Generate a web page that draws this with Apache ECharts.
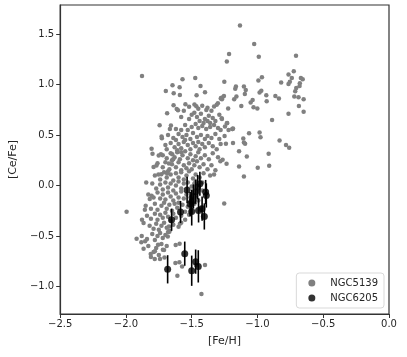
<!DOCTYPE html>
<html>
<head>
<meta charset="utf-8">
<script src="https://cdn.jsdelivr.net/npm/echarts@6/dist/echarts.min.js"></script>
<style>
  html, body { margin: 0; padding: 0; background: #fff; }
  #chart { width: 407px; height: 357px; }
</style>
</head>
<body>
<div id="chart"></div>
<script>
// [Fe/H], [Ce/Fe] pairs for NGC5139
var ngc5139 = [
  [-1.133,1.587],[-1.025,1.403],[-0.99,1.277],[-0.707,1.287],[-1.216,1.304],[-1.233,1.228],[-1.878,1.086],
  [-0.724,1.133],[-0.764,1.099],[-0.739,1.066],[-0.67,1.066],[-0.656,1.053],[-0.678,1.014],[-0.754,1.027],
  [-0.764,1.007],[-0.82,1.02],[-0.705,0.967],[-0.713,0.935],[-0.68,0.987],[-0.72,0.881],[-0.688,0.875],
  [-0.649,0.855],[-0.685,0.789],[-0.649,0.73],[-0.764,0.71],[-0.889,0.65],[-0.864,0.888],[-0.837,0.861],
  [-0.933,0.895],[-0.93,0.836],[-0.971,0.94],[-0.984,0.921],[-0.966,1.073],[-0.993,1.04],[-1.089,0.947],
  [-1.103,0.98],[-1.164,0.98],[-1.169,0.96],[-1.252,1.027],[-1.255,0.888],[-1.277,0.868],[-1.27,0.855],
  [-1.16,0.881],[-1.177,0.855],[-1.123,0.789],[-1.096,0.908],[-1.052,0.822],[-1.037,0.848],[-1.03,0.776],
  [-1.001,0.762],[-1.223,0.762],
  [-1.186,0.564],[-1.22,0.551],[-1.064,0.518],[-1.108,0.465],[-1.103,0.426],[-0.984,0.525],[-0.977,0.479],
  [-1.094,0.413],[-0.915,0.314],[-0.832,0.446],[-0.783,0.4],[-0.759,0.373],[-0.998,0.175],[-0.911,0.195],
  [-1.14,0.188],[-1.103,0.089],[-1.081,0.287],[-1.24,0.413],[-1.186,0.42],[-1.265,0.254],[-1.235,0.215],
  [-1.282,0.241],[-1.14,0.34],
  [-1.697,0.937],[-1.646,0.993],[-1.57,1.053],[-1.473,1.066],[-1.433,0.987],[-1.592,0.974],[-1.637,0.914],
  [-1.59,0.898],[-1.463,0.894],[-1.399,0.924],
  [-1.744,0.597],[-1.658,0.594],[-1.666,0.561],[-1.729,0.485],[-1.727,0.469],[-1.805,0.363],[-1.798,0.314],
  [-1.751,0.297],[-1.734,0.31],[-1.768,0.198],[-1.79,0.182],[-1.753,0.109],[-1.731,0.112],[-1.687,0.119],
  [-1.673,0.218],[-1.641,0.261],[-1.648,0.31],[-1.687,0.716],[-1.638,0.795],[-1.614,0.759],[-1.604,0.746],
  [-1.548,0.805],[-1.479,0.802],[-1.465,0.785],[-1.389,0.749],[-1.33,0.782],[-1.301,0.815],[-1.279,0.861],
  [-1.267,0.871],[-1.272,0.667],[-1.247,0.584],[-1.191,0.561],[-1.233,0.617],
  // dense core
  [-1.52,0.78],[-1.45,0.76],[-1.42,0.79],[-1.38,0.77],[-1.35,0.74],[-1.31,0.80],[-1.56,0.74],[-1.48,0.72],
  [-1.50,0.70],[-1.46,0.68],[-1.43,0.71],[-1.40,0.66],[-1.37,0.69],[-1.34,0.67],[-1.32,0.64],[-1.29,0.70],
  [-1.44,0.64],[-1.41,0.62],[-1.38,0.64],[-1.36,0.62],[-1.52,0.66],[-1.58,0.68],[-1.27,0.66],[-1.23,0.62],
  [-1.55,0.60],[-1.50,0.58],[-1.47,0.61],[-1.45,0.57],[-1.42,0.59],[-1.39,0.56],[-1.36,0.58],[-1.33,0.60],
  [-1.30,0.57],[-1.28,0.55],[-1.62,0.56],[-1.58,0.55],[-1.53,0.55],[-1.19,0.56],
  [-1.68,0.50],[-1.64,0.47],[-1.60,0.51],[-1.57,0.48],[-1.54,0.50],[-1.51,0.46],[-1.49,0.52],[-1.46,0.48],
  [-1.43,0.50],[-1.40,0.46],[-1.38,0.49],[-1.35,0.47],[-1.32,0.51],[-1.29,0.46],[-1.25,0.49],[-1.62,0.45],
  [-1.55,0.45],
  [-1.70,0.40],[-1.66,0.42],[-1.63,0.38],[-1.60,0.41],[-1.58,0.37],[-1.56,0.43],[-1.53,0.40],[-1.51,0.36],
  [-1.49,0.42],[-1.47,0.39],[-1.45,0.43],[-1.44,0.36],[-1.42,0.41],[-1.40,0.38],[-1.37,0.42],[-1.34,0.39],
  [-1.31,0.36],[-1.28,0.41],[-1.69,0.36],[-1.61,0.35],
  [-1.72,0.30],[-1.69,0.27],[-1.66,0.32],[-1.63,0.28],[-1.61,0.33],[-1.59,0.26],[-1.57,0.30],[-1.55,0.34],
  [-1.53,0.27],[-1.51,0.31],[-1.49,0.25],[-1.47,0.29],[-1.45,0.33],[-1.43,0.27],[-1.40,0.30],[-1.37,0.26],
  [-1.34,0.32],[-1.30,0.28],[-1.65,0.25],[-1.58,0.33],
  [-1.76,0.22],[-1.72,0.18],[-1.70,0.23],[-1.67,0.16],[-1.65,0.21],[-1.62,0.18],[-1.60,0.23],[-1.58,0.15],
  [-1.56,0.20],[-1.54,0.17],[-1.52,0.22],[-1.50,0.16],[-1.48,0.20],[-1.46,0.24],[-1.44,0.18],[-1.41,0.21],
  [-1.38,0.16],[-1.35,0.20],[-1.32,0.15],
  [-1.78,0.10],[-1.74,0.06],[-1.71,0.13],[-1.69,0.08],[-1.66,0.11],[-1.64,0.05],[-1.62,0.12],[-1.60,0.08],
  [-1.58,0.13],[-1.56,0.06],[-1.54,0.10],[-1.52,0.14],[-1.49,0.07],[-1.47,0.11],[-1.44,0.08],[-1.41,0.12],
  [-1.36,0.10],[-1.68,0.14],[-1.33,0.11],
  [-1.80,0.02],[-1.77,-0.03],[-1.74,0.01],[-1.72,-0.04],[-1.70,0.03],[-1.68,-0.02],[-1.66,0.02],[-1.64,-0.05],
  [-1.62,0.00],[-1.60,0.04],[-1.58,-0.03],[-1.56,0.02],[-1.53,0.03],[-1.50,-0.01],[-1.47,0.04],[-1.42,0.03],
  [-1.83,-0.09],[-1.79,-0.12],[-1.76,-0.07],[-1.74,-0.13],[-1.72,-0.09],[-1.70,-0.14],[-1.68,-0.07],[-1.66,-0.11],
  [-1.64,-0.15],[-1.62,-0.08],[-1.60,-0.12],[-1.58,-0.06],[-1.56,-0.13],[-1.54,-0.09],[-1.51,-0.12],
  [-1.85,-0.20],[-1.81,-0.23],[-1.78,-0.18],[-1.76,-0.24],[-1.73,-0.20],[-1.71,-0.17],[-1.69,-0.23],[-1.67,-0.19],
  [-1.65,-0.25],[-1.63,-0.18],[-1.61,-0.22],[-1.57,-0.19],[-1.53,-0.21],[-1.48,-0.18],[-1.43,-0.22],
  [-1.84,-0.30],[-1.81,-0.33],[-1.78,-0.28],[-1.76,-0.34],[-1.74,-0.29],[-1.72,-0.32],[-1.70,-0.27],[-1.68,-0.31],
  [-1.66,-0.35],[-1.64,-0.28],[-1.62,-0.32],[-1.58,-0.30],[-1.55,-0.34],[-1.52,-0.29],
  [-1.82,-0.40],[-1.79,-0.43],[-1.77,-0.38],[-1.75,-0.44],[-1.73,-0.40],[-1.71,-0.37],[-1.69,-0.42],[-1.67,-0.45],
  [-1.64,-0.39],[-1.60,-0.41],[-1.58,-0.37],
  [-1.88,-0.50],[-1.84,-0.53],[-1.80,-0.48],[-1.78,-0.54],[-1.76,-0.50],[-1.74,-0.47],[-1.72,-0.52],[-1.70,-0.49],
  [-1.68,-0.46],
  [-1.83,-0.60],[-1.79,-0.66],[-1.77,-0.62],[-1.75,-0.69],[-1.73,-0.58],[-1.71,-0.64],[-1.69,-0.60],[-1.81,-0.71],
  // lower outskirts
  [-1.846,0.03],[-1.805,-0.102],[-1.819,-0.135],[-1.856,-0.241],[-1.995,-0.261],[-1.878,-0.34],[-1.866,-0.373],
  [-1.919,-0.528],[-1.883,-0.564],[-1.854,-0.554],[-1.866,-0.627],[-1.812,-0.68],[-1.781,-0.729],[-1.741,-0.729],
  [-1.707,-0.713],[-1.719,-0.637],[-1.78,-0.653],[-1.756,-0.587],[-1.682,-0.505],[-1.67,-0.459],[-1.673,-0.406],
  [-1.622,-0.591],[-1.592,-0.578],[-1.624,-0.769],[-1.594,-0.762],[-1.573,-0.802],[-1.609,-0.894],[-1.468,-0.789],
  [-1.399,-0.789],[-1.426,-1.076],[-1.253,-0.178],
  [-1.59,-0.38],[-1.55,-0.26],[-1.60,-0.17],[-1.45,-0.15],[-1.42,-0.05],[-1.48,0.02]
];

// NGC6205 points and their [Ce/Fe] errors
var feH6205 = [-1.535,-1.585,-1.512,-1.500,-1.500,-1.487,-1.470,-1.455,-1.438,-1.394,
               -1.389,-1.448,-1.421,-1.404,-1.653,-1.553,-1.470,-1.450,-1.500,-1.683];
var ceFe6205 = [-0.044,-0.263,-0.184,-0.161,-0.257,-0.109,-0.062,-0.016,0.017,-0.065,
                -0.099,-0.247,-0.230,-0.307,-0.340,-0.676,-0.755,-0.802,-0.845,-0.831];
var err6205 = [0.13,0.11,0.12,0.12,0.14,0.12,0.12,0.12,0.12,0.12,
               0.12,0.12,0.12,0.13,0.11,0.12,0.12,0.16,0.15,0.14];

var xTicks = [-2.5, -2.0, -1.5, -1.0, -0.5, 0.0];
var yTicks = [-1.0, -0.5, 0.0, 0.5, 1.0, 1.5];

var ngc6205 = feH6205.map(function (x, i) { return [x, ceFe6205[i]]; });
var bars6205 = feH6205.map(function (x, i) { return [x, ceFe6205[i] - err6205[i], ceFe6205[i] + err6205[i]]; });

function fmt(v) {
    var s = Math.abs(v).toFixed(1);
    return v < 0 ? '\u2212' + s : s;
}

var textColor = '#262626';
var axisColor = '#333333';
var font = 'DejaVu Sans';

var myChart = echarts.init(document.getElementById('chart'));
var option = {
    animation: false,
    backgroundColor: '#fff',
    grid: {
        left: 48,
        right: 18,
        top: 5,
        bottom: 43,
        show: true,
        borderColor: axisColor,
        borderWidth: 1.2,
        backgroundColor: '#fff'
    },
    xAxis: {
        type: 'value',
        min: -2.5,
        max: 0,
        name: '[Fe/H]',
        nameLocation: 'middle',
        nameGap: 22,
        nameTextStyle: { color: textColor, fontSize: 11, fontFamily: font },
        axisLine: { show: true, onZero: false, lineStyle: { color: axisColor, width: 1.2 } },
        axisTick: { show: true, length: 4, lineStyle: { color: axisColor }, customValues: xTicks },
        axisLabel: { color: textColor, fontSize: 10, fontFamily: font, margin: 5, customValues: xTicks, formatter: fmt },
        splitLine: { show: false }
    },
    yAxis: {
        type: 'value',
        min: -1.274,
        max: 1.789,
        name: '[Ce/Fe]',
        nameLocation: 'middle',
        nameRotate: 90,
        nameGap: 34,
        nameTextStyle: { color: textColor, fontSize: 11, fontFamily: font },
        axisLine: { show: true, onZero: false, lineStyle: { color: axisColor, width: 1.2 } },
        axisTick: { show: true, length: 4, lineStyle: { color: axisColor }, customValues: yTicks },
        axisLabel: { color: textColor, fontSize: 10, fontFamily: font, margin: 6, customValues: yTicks, formatter: fmt },
        splitLine: { show: false }
    },
    legend: {
        orient: 'vertical',
        right: 23,
        bottom: 49,
        itemWidth: 7,
        itemHeight: 7,
        itemGap: 5,
        padding: [5, 6, 5, 12],
        borderColor: '#d9d9d9',
        borderWidth: 1,
        borderRadius: 3,
        backgroundColor: 'rgba(255,255,255,0.85)',
        textStyle: { color: textColor, fontSize: 10, fontFamily: font, padding: [0, 0, 0, 10] },
        data: [
            { name: 'NGC5139', icon: 'circle', itemStyle: { color: '#808080' } },
            { name: 'NGC6205', icon: 'circle', itemStyle: { color: '#000' } }
        ]
    },
    series: [
        {
            name: 'NGC5139',
            type: 'scatter',
            symbolSize: 4.5,
            itemStyle: { color: '#808080', opacity: 1 },
            data: ngc5139,
            z: 2
        },
        {
            name: 'err',
            type: 'custom',
            renderItem: function (params, api) {
                var top = api.coord([api.value(0), api.value(2)]);
                var bot = api.coord([api.value(0), api.value(1)]);
                return {
                    type: 'line',
                    shape: { x1: top[0], y1: top[1], x2: bot[0], y2: bot[1] },
                    style: { stroke: '#000', lineWidth: 1.6 }
                };
            },
            encode: { x: 0, y: [1, 2] },
            data: bars6205,
            z: 3
        },
        {
            name: 'NGC6205',
            type: 'scatter',
            symbolSize: 7,
            itemStyle: { color: '#000' },
            data: ngc6205,
            z: 4
        }
    ]
};
myChart.setOption(option);
window.addEventListener('resize', function () {
    myChart.resize();
});
</script>
</body>
</html>
